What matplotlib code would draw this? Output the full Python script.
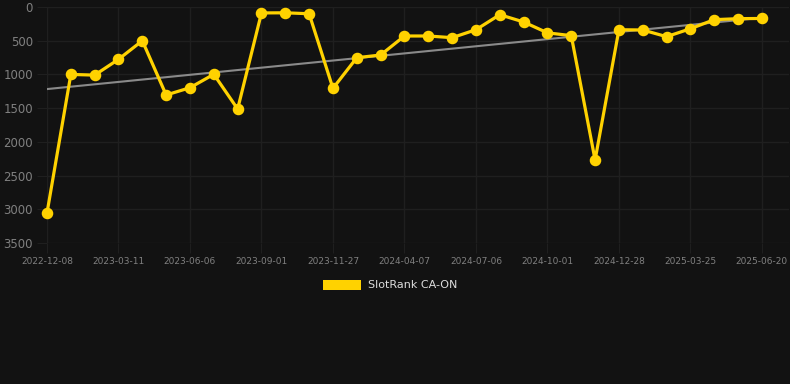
import numpy as np
import matplotlib
matplotlib.use("Agg")
import matplotlib.pyplot as plt
from matplotlib.patches import Patch

# rank values (lower is better, y axis inverted)
ranks = [3055, 1000, 1010, 776, 500, 1305, 1197, 998, 1513, 88, 86, 100,
         1206, 752, 712, 430, 430, 455, 337, 114, 222, 383, 425, 2269,
         337, 341, 440, 322, 188, 173, 170]
tick_labels = ["2022-12-08", "2023-03-11", "2023-06-06", "2023-09-01",
               "2023-11-27", "2024-04-07", "2024-07-06", "2024-10-01",
               "2024-12-28", "2025-03-25", "2025-06-20"]
series_name = "SlotRank CA-ON"

bg = "#121212"
gold = "#FFD200"
grid_c = "#1f1f1f"
txt_c = "#808080"

x = np.arange(len(ranks))
coef = np.polyfit(x, ranks, 1)
trend = np.polyval(coef, x)

fig = plt.figure(figsize=(7.9, 3.84), dpi=100, facecolor=bg)
ax = fig.add_axes([47 / 790, 1 - 243 / 384, (789 - 47) / 790, 236 / 384])
ax.set_facecolor(bg)

ax.plot(x, trend, color="#8a8a8a", lw=1.5, zorder=2)
ax.plot(x, ranks, color=gold, lw=2.3, marker="o", ms=7.3, zorder=3,
        clip_on=False)

ax.set_xlim(0, (789 - 47) / 23.83)
ax.set_ylim(3500, 0)
ax.set_yticks(range(0, 3501, 500))
ax.set_xticks(x[::3])
ax.set_xticklabels(tick_labels)

ax.grid(True, color=grid_c, lw=1)
for s in ax.spines.values():
    s.set_visible(False)
ax.tick_params(axis="y", colors=grid_c, labelcolor=txt_c, labelsize=8.5,
               length=7, pad=3)
ax.tick_params(axis="x", colors=grid_c, labelcolor=txt_c, labelsize=6.5,
               length=7, pad=3)

fig.legend(handles=[Patch(facecolor=gold, label=series_name)],
           loc="center", bbox_to_anchor=(390 / 790, 1 - 285 / 384),
           frameon=False, labelcolor="#dddddd", fontsize=8,
           handlelength=3.5, handleheight=1.0, handletextpad=0.6)

fig.savefig("out.png", dpi=100, facecolor=bg)
